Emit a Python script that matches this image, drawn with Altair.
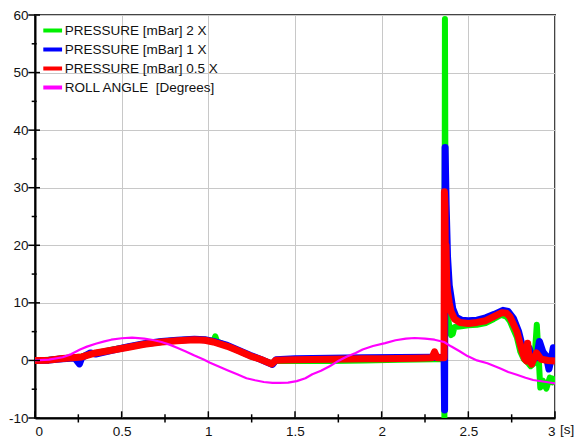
import altair as alt
import pandas as pd

# ---- data ----
names = ["PRESSURE [mBar] 2 X", "PRESSURE [mBar] 1 X", "PRESSURE [mBar] 0.5 X",
         "ROLL ANGLE \u00a0[Degrees]"]
colors = ["#00f000", "#0000ff", "#ff0000", "#ff00ff"]
widths = [6, 7, 7, 2.2]
legend_widths = [4, 4, 4, 2]

p2x = [(0, 0), (0.08, 0.1), (0.16, 0.4), (0.27, 0.7), (0.35, 1.3), (0.45, 1.9), (0.54, 2.4),
       (0.63, 2.9), (0.73, 3.3), (0.82, 3.5), (0.92, 3.7), (0.98, 3.6), (1.03, 3.4), (1.04, 4.2),
       (1.05, 3.3), (1.11, 2.5), (1.18, 1.6), (1.24, 0.8), (1.30, 0.2), (1.366, -0.5), (1.39, -0.1),
       (1.5, -0.1), (1.7, -0.1), (1.9, 0.0), (2.1, 0.1), (2.3, 0.2), (2.36, 0.2), (2.362, -10),
       (2.365, 59.3), (2.368, 30), (2.372, 14), (2.378, 9), (2.385, 7), (2.395, 5.0), (2.40, 4.4),
       (2.405, 5.5), (2.41, 4.6), (2.42, 5.8), (2.45, 5.9), (2.5, 6.1), (2.55, 6.2), (2.6, 6.5),
       (2.647, 7.2), (2.69, 7.9), (2.72, 7.6), (2.74, 6.8), (2.78, 4.0), (2.80, 1.5), (2.82, 0.2),
       (2.84, -0.3), (2.86, -1.0), (2.88, -0.5), (2.895, 6.2), (2.905, 1.0), (2.915, -4.7),
       (2.93, -3.5), (2.95, -4.9), (2.97, -3.0), (2.985, -3.8), (3.0, -2.8)]

p1x = [(0, 0), (0.08, 0.05), (0.16, 0.3), (0.23, 0.4), (0.256, -0.6), (0.27, 0.5), (0.32, 1.3),
       (0.35, 1.1), (0.45, 1.8), (0.54, 2.4), (0.63, 2.9), (0.73, 3.3), (0.82, 3.5), (0.92, 3.7),
       (0.98, 3.6), (1.03, 3.3), (1.11, 2.6), (1.18, 1.7), (1.24, 0.9), (1.30, 0.2), (1.37, -0.7),
       (1.39, 0.1), (1.5, 0.3), (1.7, 0.4), (1.9, 0.45), (2.1, 0.5), (2.3, 0.55), (2.36, 0.5),
       (2.363, -8.6), (2.366, 37), (2.372, 27), (2.38, 18), (2.39, 13), (2.40, 11), (2.41, 9),
       (2.43, 7.5), (2.46, 7.0), (2.5, 6.9), (2.55, 7.0), (2.6, 7.4), (2.65, 8.0), (2.70, 8.7),
       (2.73, 8.5), (2.76, 7.3), (2.79, 5.0), (2.815, 2.0), (2.835, 0.5), (2.85, 2.2), (2.87, 0.2),
       (2.895, 0.5), (2.91, 3.3), (2.93, 1.5), (2.95, 0.7), (2.965, -1.5), (2.98, 0.5),
       (2.99, 2.2), (3.0, 0.0)]

p05x = [(0, 0), (0.08, 0.05), (0.16, 0.35), (0.27, 0.6), (0.35, 1.3), (0.45, 1.8), (0.54, 2.3),
        (0.63, 2.8), (0.73, 3.2), (0.82, 3.4), (0.92, 3.6), (0.98, 3.5), (1.03, 3.2), (1.11, 2.45),
        (1.18, 1.6), (1.24, 0.8), (1.30, 0.2), (1.366, -0.6), (1.39, 0.05), (1.5, 0.1), (1.6, 0.15),
        (1.7, 0.2), (1.8, 0.25), (1.9, 0.3), (2.0, 0.3), (2.1, 0.35), (2.2, 0.4), (2.29, 0.45),
        (2.305, 1.5), (2.32, 0.45), (2.36, 0.45), (2.362, 29.3), (2.365, 27), (2.368, 16),
        (2.371, 20), (2.375, 14), (2.38, 12), (2.39, 10), (2.40, 8.5), (2.42, 7.2), (2.45, 6.6),
        (2.5, 6.4), (2.55, 6.6), (2.6, 6.9), (2.647, 7.6), (2.694, 8.3), (2.72, 8.2), (2.74, 7.6),
        (2.78, 5.0), (2.81, 1.6), (2.825, 0.3), (2.836, -0.1), (2.842, 3.0), (2.85, 0.5),
        (2.865, -0.65), (2.893, 1.3), (2.92, 0.2), (2.96, 0.0), (3.0, -0.1)]

roll = [(0, 0), (0.08, 0.15), (0.16, 0.55), (0.21, 1.1), (0.26, 1.9), (0.30, 2.4), (0.35, 2.9),
        (0.40, 3.3), (0.44, 3.6), (0.50, 3.85), (0.56, 3.95), (0.63, 3.8), (0.68, 3.55),
        (0.73, 3.2), (0.78, 2.7), (0.82, 2.2), (0.87, 1.55), (0.92, 0.85), (0.97, 0.2),
        (1.01, -0.4), (1.06, -1.05), (1.11, -1.7), (1.17, -2.45), (1.22, -3.1), (1.27, -3.45),
        (1.32, -3.75), (1.37, -3.9), (1.41, -3.9), (1.46, -3.85), (1.51, -3.6), (1.56, -3.1),
        (1.60, -2.4), (1.65, -1.8), (1.70, -1.0), (1.755, 0.0), (1.80, 0.7), (1.85, 1.3),
        (1.89, 1.9), (1.95, 2.5), (2.02, 3.0), (2.08, 3.5), (2.14, 3.8), (2.19, 3.9), (2.25, 3.8),
        (2.305, 3.6), (2.36, 3.2), (2.40, 2.45), (2.45, 1.6), (2.495, 0.75), (2.55, 0.0),
        (2.61, -0.5), (2.685, -1.4), (2.73, -2.0), (2.78, -2.5), (2.83, -3.0), (2.874, -3.4),
        (2.95, -3.75), (3.0, -4.0)]

x_major = [0, 0.5, 1, 1.5, 2, 2.5, 3]
x_minor = [0.25, 0.75, 1.25, 1.75, 2.25, 2.75]
y_major = [-10, 0, 10, 20, 30, 40, 50, 60]
y_minor = [-5, 5, 15, 25, 35, 45, 55]

rows = []
for name, pts in zip(names, [p2x, p1x, p05x, roll]):
    for i, (t, v) in enumerate(pts):
        rows.append({"series": name, "t": t, "v": v, "i": i})
df = pd.DataFrame(rows)

W, H = 520, 403
FONT = "Liberation Sans"
FS = 13.5

legend = alt.Legend(
    title=None, orient="none", legendX=4.4, legendY=5.0,
    symbolType="M-0.786,0H1.45", symbolSize=282, rowPadding=0, padding=0,
    labelOffset=4.3, labelFont=FONT, labelFontSize=FS, labelColor="#111", labelLimit=400,
)

color = alt.Color("series:N", scale=alt.Scale(domain=names, range=colors), legend=legend)

xscale = alt.Scale(domain=[0, 3], nice=False, zero=False)
yscale = alt.Scale(domain=[-10, 60], nice=False, zero=False)

x = alt.X("t:Q", scale=xscale,
          axis=alt.Axis(values=x_major, format="~g", ticks=False, labelPadding=6,
                        title="[s]", titleX=W + 4.5, titleY=15, titleAlign="left",
                        titleBaseline="alphabetic", titleFont=FONT, titleFontSize=FS,
                        titleFontWeight="normal", titleColor="#111"))
y = alt.Y("v:Q", scale=yscale,
          axis=alt.Axis(values=y_major, ticks=False, labelPadding=7,
                        labelExpr="'' + datum.value", title=None))

base = alt.Chart(df)
layers = []
for name, w in zip(names, widths):
    layers.append(
        base.transform_filter(alt.datum.series == name)
        .mark_line(strokeWidth=w, strokeJoin="round", clip=True)
        .encode(x=x, y=y, color=color, order=alt.Order("i:Q"))
    )
# an empty layer that only carries the legend's line widths
layers.append(
    base.transform_filter("false").mark_line()
    .encode(x=x, y=y, color=color,
            strokeWidth=alt.StrokeWidth("series:N",
                                        scale=alt.Scale(domain=names, range=legend_widths),
                                        legend=legend))
)

# axis tick marks that cross the axis lines
tick_style = dict(color="#000", strokeWidth=1.5)
xt_major = pd.DataFrame({"t": x_major})
xt_minor = pd.DataFrame({"t": x_minor})
yt_major = pd.DataFrame({"v": y_major})
yt_minor = pd.DataFrame({"v": y_minor})
layers += [
    alt.Chart(xt_major).mark_rule(**tick_style).encode(x=x, y=alt.value(H - 6.7), y2=alt.value(H)),
    alt.Chart(xt_minor).mark_rule(**tick_style).encode(x=x, y=alt.value(H - 3.7), y2=alt.value(H + 4.5)),
    alt.Chart(yt_major).mark_rule(**tick_style).encode(y=y, x=alt.value(-6.7), x2=alt.value(5)),
    alt.Chart(yt_minor).mark_rule(**tick_style).encode(y=y, x=alt.value(-3.3), x2=alt.value(1.7)),
]

chart = alt.layer(*layers).properties(
    width=W, height=H,
    autosize=alt.AutoSizeParams(type="none"),
    padding={"left": 27, "top": 7, "right": 19, "bottom": 21},
).configure_view(stroke="#444", strokeWidth=2).configure_axis(
    domainColor="#000", domainWidth=2, gridColor="#c8c8c8", gridWidth=1,
    labelFont=FONT, labelFontSize=FS, labelColor="#111",
)

chart.save("out.html", embed_options={"renderer": "svg", "actions": False})
